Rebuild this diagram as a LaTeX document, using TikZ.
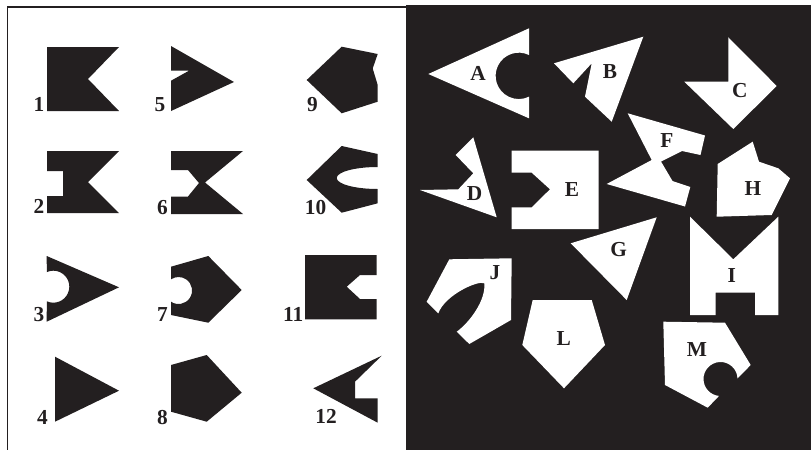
\documentclass[tikz,border=0pt]{standalone}
\usepackage{fontspec}
\setmainfont{Liberation Serif}
\definecolor{blk}{RGB}{35,31,32}
\begin{document}
\begin{tikzpicture}[x=0.75pt,y=-0.75pt,
  lab/.style={font=\fontsize{16}{18}\selectfont\bfseries, text=blk, anchor=base, inner sep=0pt},
  dark/.style={fill=blk},
  light/.style={fill=white}]
\useasboundingbox (0,0) rectangle (811,450);
% panels
\fill[white] (0,0) rectangle (811,450);
\fill[blk] (406,5) rectangle (811,450);
\draw[blk, line width=1.1pt] (7.5,450) -- (7.5,7) -- (406,7);
% ---- left panel shapes ----
% 1
\fill[dark] (47,47) -- (119,47) -- (88,79) -- (119,111) -- (47,111) -- cycle;
% 2
\fill[dark] (47,151) -- (119,151) -- (88,182) -- (119,213) -- (47,213) -- (47,196) -- (63,196) -- (63,171) -- (47,171) -- cycle;
% 3
\fill[dark] (46.7,256) -- (119,287.3) -- (46.7,321.7) -- (46.8,301.3) arc[start angle=114,end angle=-114,radius=16] -- cycle;
% 4
\fill[dark] (55,356.7) -- (119,390.7) -- (55,421.7) -- cycle;
% 5
\fill[dark] (171,46) -- (234,82) -- (171,111) -- (171,80.7) -- (189,70.7) -- (171,70.7) -- cycle;
% 6
\fill[dark] (171,151) -- (243,151) -- (205,182.5) -- (243,214) -- (171,214) -- (171,196.5) -- (188,196.5) -- (199,183) -- (188,170) -- (171,170) -- cycle;
% 7
\fill[dark] (171,266.7) -- (208.3,256) -- (241.7,290) -- (208.3,322.7) -- (171,315) -- (171,301.7) arc[start angle=124,end angle=-124,radius=13.5] -- cycle;
% 8
\fill[dark] (171,365) -- (206.7,355) -- (241.7,392.7) -- (206.7,421.7) -- (171,411.7) -- cycle;
% 9
\fill[dark] (306.7,80) -- (341.7,46.7) -- (377.7,54) -- (372.7,68.5) -- (377.7,85) -- (377.7,101.7) -- (341.7,113.3) -- cycle;
% 10
\fill[dark] (306.7,180) -- (341.7,146) -- (377.7,154) -- (377.7,167) arc[start angle=-90,end angle=-270,x radius=41,y radius=11] -- (377.7,203.3) -- (341.7,212.7) -- cycle;
% 11
\fill[dark] (305,255) -- (376.7,255) -- (376.7,275) -- (360,275) -- (346.7,286.7) -- (360,299) -- (376.7,299) -- (376.7,319.3) -- (305,319.3) -- cycle;
% 12
\fill[dark] (313.3,388.3) -- (381.7,355.7) -- (355,381.7) -- (355,398.3) -- (377.7,398.3) -- (377.7,422.7) -- cycle;
% ---- right panel shapes ----
% A
\fill[light] (428.3,74) -- (529,28.3) -- (529,55) arc[start angle=-64,end angle=-296,radius=23.2] -- (529,118.3) -- cycle;
% B
\fill[light] (554,63.3) -- (573.3,83.3) -- (591.7,63.3) -- (585,96.7) -- (611.7,121.7) -- (643.3,36.7) -- cycle;
% C
\fill[light] (728.3,37.3) -- (776.7,86) -- (733.3,129) -- (684.3,81.7) -- (728.3,81.7) -- cycle;
% D
\fill[light] (473.3,137.3) -- (496.7,217.3) -- (420,190) -- (458.3,189.3) -- (473.3,173.3) -- (455.7,155) -- cycle;
% E
\fill[light] (511.7,150.7) -- (598.7,150.7) -- (598.7,229) -- (511.7,229) -- (511.7,207.3) -- (531.7,207.3) -- (550,189.3) -- (531.7,172.7) -- (511.7,172.7) -- cycle;
% F
\fill[light] (627.7,113.3) -- (705,135.5) -- (700.5,155) -- (682,151) -- (661,161.5) -- (672.5,181) -- (690.3,187) -- (685,206.5) -- (606.7,184) -- (651.7,160) -- cycle;
% G
\fill[light] (570.7,243.3) -- (656.7,217.3) -- (626.7,300) -- cycle;
% H
\fill[light] (752.7,141.7) -- (759,161.7) -- (778.3,168.3) -- (790,178.3) -- (771.7,215) -- (716.7,216.7) -- (717.7,164) -- cycle;
% I
\fill[light] (690,216.7) -- (733.3,259.3) -- (778.3,216.7) -- (778.3,315) -- (755,315) -- (755,292.7) -- (715.7,292.7) -- (715.7,315) -- (690,315) -- cycle;
% J
\fill[light] (449.3,259.3) -- (511.7,258.3) -- (511,320) -- (469.3,344) -- (456.7,331.7) .. controls (470,322) and (486,300) .. (484.3,283.3) .. controls (478,280) and (445,295) .. (438.3,313.3) -- (426.7,301.7) -- cycle;
% L
\fill[light] (532.7,300) -- (591.7,300) -- (605,345) -- (564,388.3) -- (522.3,345) -- cycle;
% M
\fill[light] (663.3,321.7) -- (725,322.7) -- (750.7,365) -- (737.5,378.4) arc[start angle=-2,end angle=-265,radius=17] -- (707.7,407.7) -- (665,385) -- cycle;
% ---- labels ----
\node[lab] (n1) at (39,111) {1};
\node[lab] (n2) at (39,213) {2};
\node[lab] (n3) at (39,321) {3};
\node[lab] (n4) at (42.5,424) {4};
\node[lab] (n5) at (160,111) {5};
\node[lab] (n6) at (162.5,214) {6};
\node[lab] (n7) at (162.5,321) {7};
\node[lab] (n8) at (162.5,424) {8};
\node[lab] (n9) at (312.5,111) {9};
\node[lab] (n10) at (315.5,214) {10};
\node[lab] (n11) at (293.3,321) {11};
\node[lab] (n12) at (326,423.3) {12};
\node[lab] (lA) at (478,80) {A};
\node[lab] (lB) at (610,78.5) {B};
\node[lab] (lC) at (739.7,97.7) {C};
\node[lab] (lD) at (474.5,200) {D};
\node[lab] (lE) at (572,196) {E};
\node[lab] (lF) at (667,147.7) {F};
\node[lab] (lG) at (618.7,256.5) {G};
\node[lab] (lH) at (753,195) {H};
\node[lab] (lI) at (731.7,282.3) {I};
\node[lab] (lJ) at (495,279.5) {J};
\node[lab] (lL) at (563.7,345.7) {L};
\node[lab] (lM) at (697,356.7) {M};
\end{tikzpicture}
\end{document}
